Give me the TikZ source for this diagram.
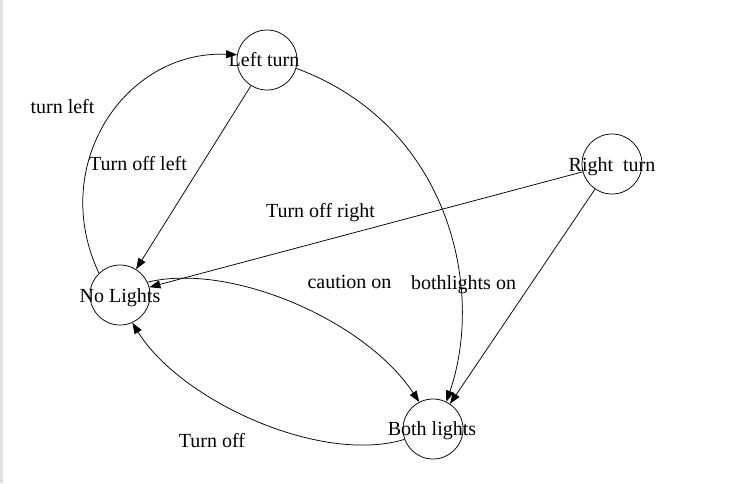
\documentclass[tikz,border=0pt]{standalone}
\usepackage{fontspec}
\setmainfont{Liberation Serif}
\usetikzlibrary{arrows.meta}
\begin{document}
\begin{tikzpicture}[x=1pt,y=-1pt,
  state/.style={draw,circle,minimum size=60pt,inner sep=0pt,line width=0.75pt},
  lbl/.style={inner sep=0pt,anchor=base,font=\fontsize{20}{24}\selectfont},
  edge/.style={line width=0.75pt,-{Triangle[length=11pt,width=8pt]}},
]
\useasboundingbox (0,0) rectangle (735,483);
\fill[black!12] (0,0) rectangle (3,483);
% states
\node[state] (L) at (267,60) {};
\node[state] (N) at (120,295) {};
\node[state] (B) at (433,429) {};
\node[state] (R) at (612,164) {};
% state texts
\node[lbl] (Lt) at (264,66) {Left turn};
\node[lbl] (Nt) at (120,302) {No Lights};
\node[lbl] (Bt) at (432,435) {Both lights};
\node[lbl] (Rt) at (612,171) {Right\ \ turn};
% edges
\draw[edge] (N.134) .. controls (48,165) and (125,50) .. (L.170);
\draw[edge] (L) -- (N);
\draw[edge] (L.-16) .. controls (450,125) and (485,290) .. (B.64);
\draw[edge] (R) -- (N);
\draw[edge] (R) -- (B);
\draw[edge] (N.25) .. controls (230,262) and (365,320) .. (B.117);
\draw[edge] (B.200) .. controls (320,465) and (180,400) .. (N.294);
% edge labels
\node[lbl] (e1) at (62.5,113) {turn left};
\node[lbl] (e2) at (138,170) {Turn off left};
\node[lbl] (e3) at (463.5,289) {bothlights on};
\node[lbl] (e4) at (320.5,217) {Turn off right};
\node[lbl] (e6) at (349.5,288) {caution on};
\node[lbl] (e7) at (212,447) {Turn off};
\end{tikzpicture}
\end{document}
